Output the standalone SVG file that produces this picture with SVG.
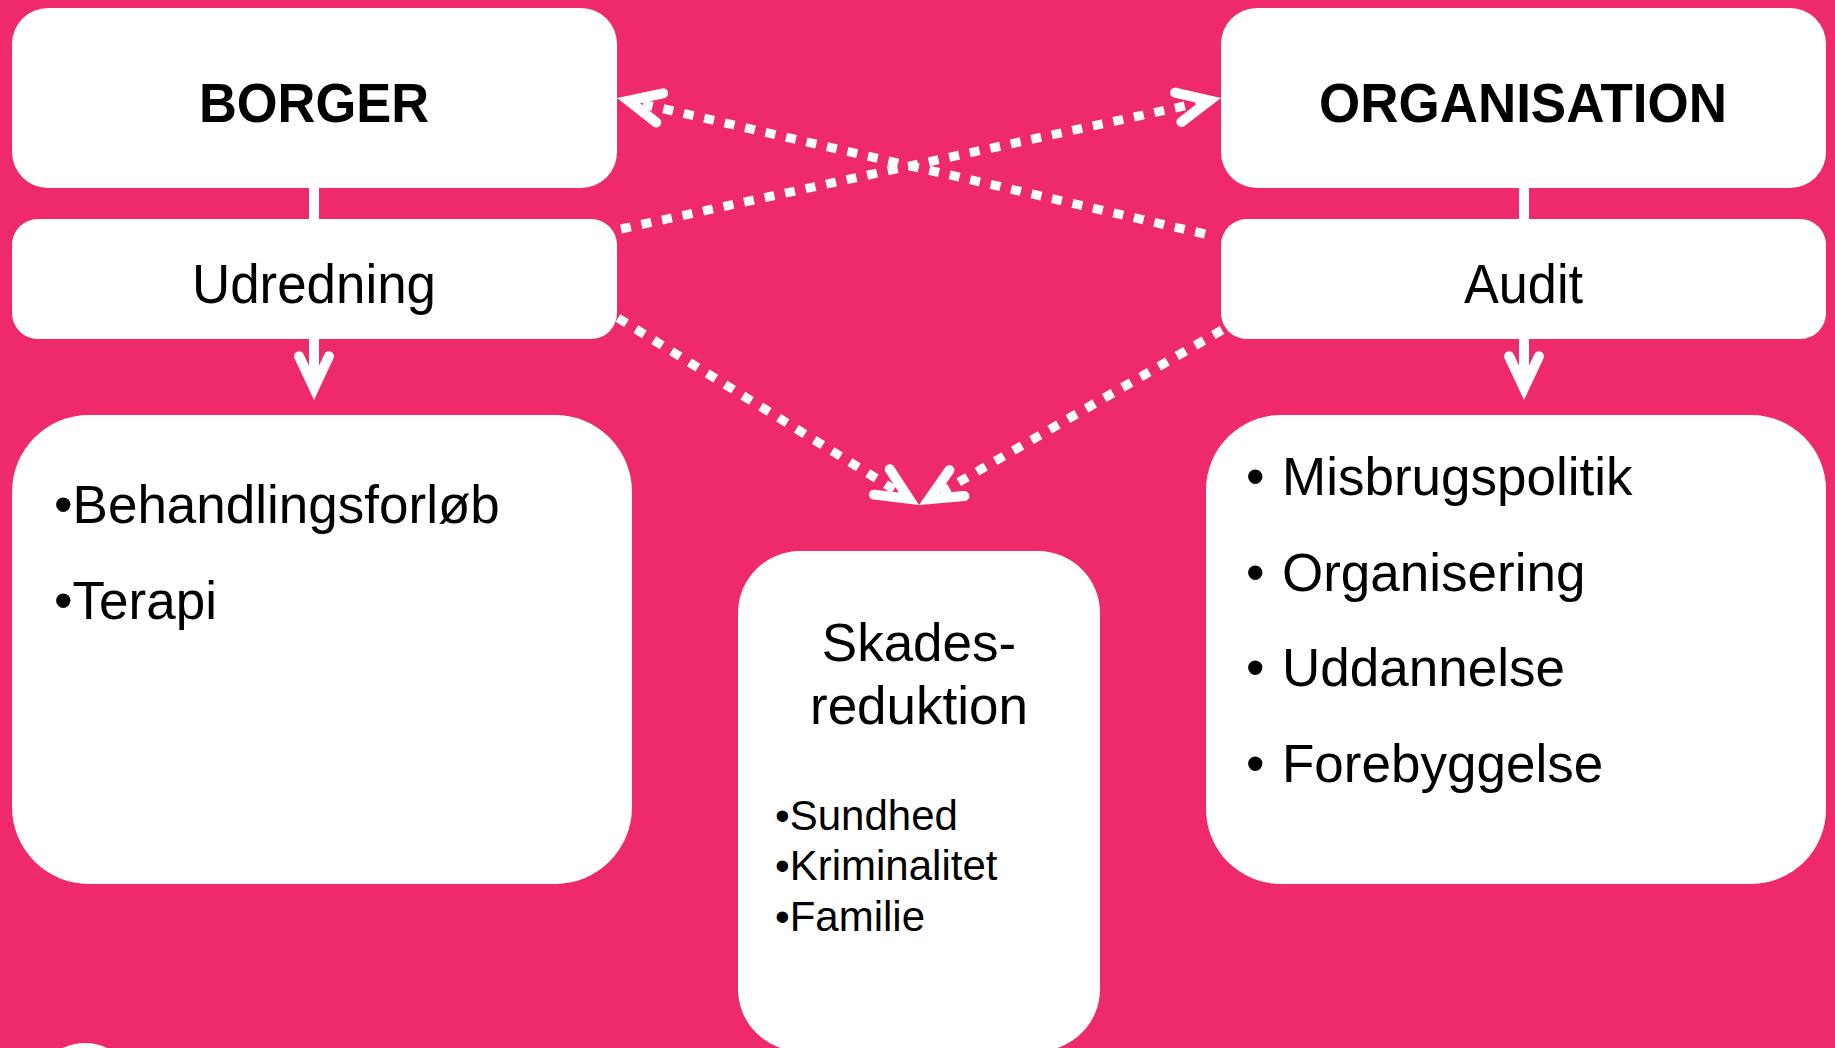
<svg xmlns="http://www.w3.org/2000/svg" width="1835" height="1048" viewBox="0 0 1835 1048">
<style>
.box{fill:#ffffff}
.title{font-family:"Liberation Sans",Arial,sans-serif;font-weight:bold;font-size:55px;fill:#000}
.sub{font-family:"Liberation Sans",Arial,sans-serif;font-size:56px;fill:#000}
.item{font-family:"Liberation Sans",Arial,sans-serif;font-size:53px;fill:#000}
.small{font-family:"Liberation Sans",Arial,sans-serif;font-size:42px;fill:#000}
.solid{stroke:#fff;stroke-width:10;fill:none}
.dot{stroke:#fff;stroke-width:9;fill:none;stroke-dasharray:10 11}
</style>
<defs>
<marker id="arr" markerUnits="userSpaceOnUse" viewBox="-60 -30 75 60" markerWidth="75" markerHeight="60" refX="0" refY="0" orient="auto" overflow="visible">
<polyline points="-32,-15 0,0 -32,15" fill="none" stroke="#fff" stroke-width="10" stroke-linecap="round" stroke-linejoin="miter" stroke-miterlimit="10"/>
</marker>
</defs>
<rect width="1835" height="1048" fill="#EE2A6B"/>
<circle cx="85" cy="1094" r="51" fill="#fff"/>

<g id="connectors">
<line class="solid" x1="314" y1="185" x2="314" y2="221"/>
<line class="solid" x1="1524" y1="185" x2="1524" y2="221"/>
<line class="solid" x1="314" y1="337" x2="314" y2="388.2" marker-end="url(#arr)"/>
<line class="solid" x1="1524" y1="337" x2="1524" y2="388.2" marker-end="url(#arr)"/>
<line class="dot" x1="1205" y1="234" x2="628.5" y2="100.7" marker-end="url(#arr)"/>
<line class="dot" x1="621" y1="229" x2="1209.5" y2="100.5" marker-end="url(#arr)"/>
<line class="dot" x1="618" y1="318" x2="909" y2="498.8" marker-end="url(#arr)"/>
<line class="dot" x1="1222" y1="330" x2="929.2" y2="499.1" marker-end="url(#arr)"/>
</g>

<g id="borger">
<rect class="box" x="12" y="8" width="605" height="180" rx="36"/>
<text class="title" x="314" y="122" text-anchor="middle" textLength="230" lengthAdjust="spacingAndGlyphs">BORGER</text>
</g>
<g id="udredning">
<rect class="box" x="12" y="219" width="605" height="120" rx="26"/>
<text class="sub" x="314" y="303" text-anchor="middle" textLength="244" lengthAdjust="spacingAndGlyphs">Udredning</text>
</g>
<g id="organisation">
<rect class="box" x="1221" y="8" width="605" height="180" rx="36"/>
<text class="title" x="1523" y="122" text-anchor="middle" textLength="408" lengthAdjust="spacingAndGlyphs">ORGANISATION</text>
</g>
<g id="audit">
<rect class="box" x="1221" y="219" width="605" height="120" rx="26"/>
<text class="sub" x="1523.5" y="303" text-anchor="middle" textLength="119" lengthAdjust="spacingAndGlyphs">Audit</text>
</g>
<g id="behandling">
<rect class="box" x="12" y="415" width="620" height="469" rx="77"/>
<text class="item" x="54" y="523">•Behandlingsforløb</text>
<text class="item" x="54" y="619">•Terapi</text>
</g>
<g id="skadesreduktion">
<rect class="box" x="738" y="551" width="362" height="500" rx="62"/>
<text class="item" x="919" y="661" text-anchor="middle">Skades-</text>
<text class="item" x="919" y="724" text-anchor="middle">reduktion</text>
<text class="small" x="775" y="830">•Sundhed</text>
<text class="small" x="775" y="880">•Kriminalitet</text>
<text class="small" x="775" y="931">•Familie</text>
</g>
<g id="organisationsliste">
<rect class="box" x="1206" y="415" width="620" height="469" rx="75"/>
<text class="item" x="1246" y="495">•</text><text class="item" x="1282" y="495">Misbrugspolitik</text>
<text class="item" x="1246" y="591">•</text><text class="item" x="1282" y="591">Organisering</text>
<text class="item" x="1246" y="686">•</text><text class="item" x="1282" y="686">Uddannelse</text>
<text class="item" x="1246" y="782">•</text><text class="item" x="1282" y="782">Forebyggelse</text>
</g>
</svg>
